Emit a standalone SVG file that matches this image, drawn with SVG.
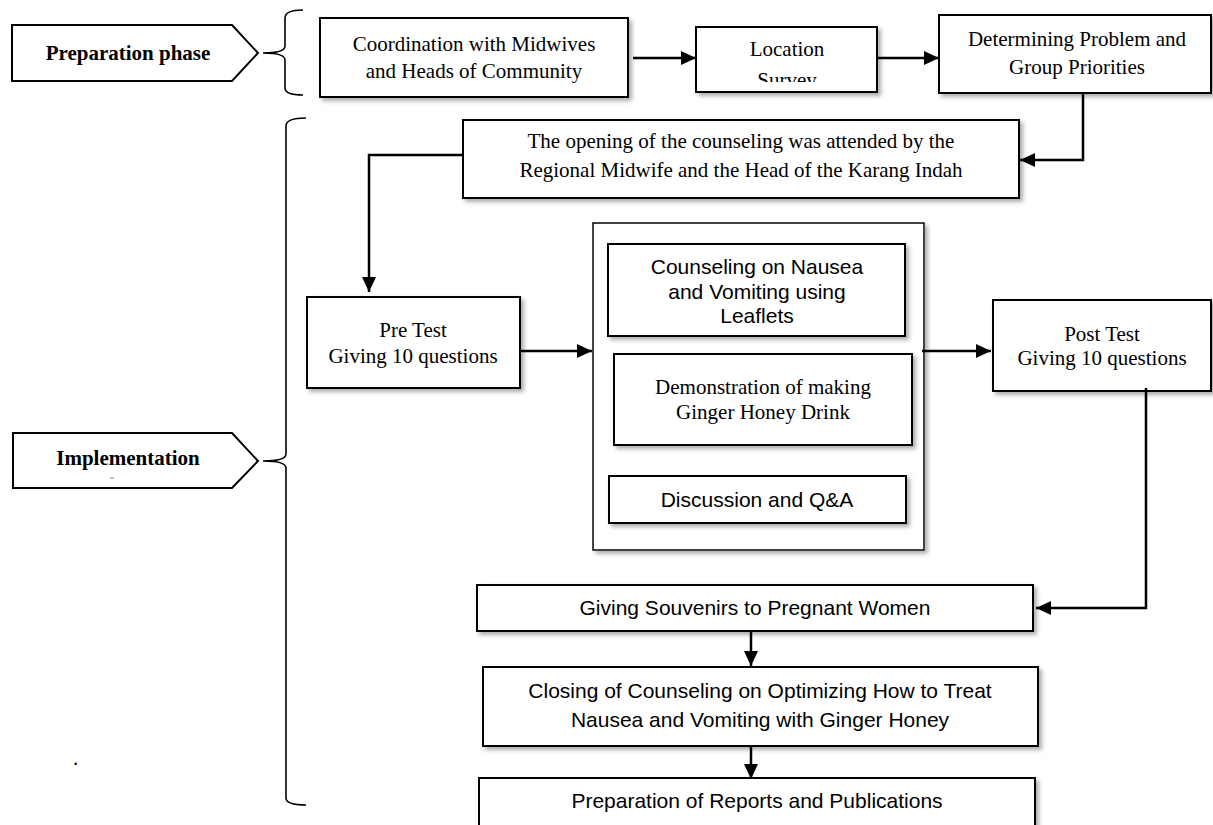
<svg xmlns="http://www.w3.org/2000/svg" width="1213" height="825" viewBox="0 0 1213 825">
<style>
.box{fill:#fff;stroke:#000;stroke-width:2;filter:url(#sh)}
.cont{fill:#fff;stroke:#000;stroke-width:1.5;filter:url(#sh)}
.tag{fill:#fff;stroke:#000;stroke-width:2}
.brace{fill:none;stroke:#000;stroke-width:1.6}
.ser{font-family:"Liberation Serif","Times New Roman",serif;font-size:21px;fill:#000;text-anchor:middle}
.san{font-family:"Liberation Sans",Arial,sans-serif;font-size:21px;fill:#000;text-anchor:middle}
.bold{font-family:"Liberation Serif","Times New Roman",serif;font-size:21px;font-weight:bold;fill:#000;text-anchor:middle}
.con{fill:none;stroke:#000;stroke-width:2.5}
.arr{marker-end:url(#ah)}
</style>
<defs>
<filter id="sh" x="-10%" y="-10%" width="130%" height="140%">
<feDropShadow dx="3" dy="3" stdDeviation="2" flood-color="#777" flood-opacity="0.6"/>
</filter>
<marker id="ah" markerUnits="userSpaceOnUse" markerWidth="15" markerHeight="14" refX="15" refY="7" orient="auto">
<path d="M0,0 L15,7 L0,14 z" fill="#000"/>
</marker>
<clipPath id="locclip"><rect x="697" y="28" width="179" height="54"/></clipPath>
</defs>

<g id="prep-phase">
<path class="tag" d="M12,25 L232,25 L258,53 L232,81 L12,81 Z"/>
<text class="bold" x="128" y="60">Preparation phase</text>
</g>
<g id="impl-phase">
<path class="tag" d="M13,433 L232,433 L258,461 L232,488 L13,488 Z"/>
<text class="bold" x="128" y="465">Implementation</text>
<line x1="110" y1="478" x2="114" y2="478" stroke="#888" stroke-width="1"/>
</g>
<g id="braces">
<path class="brace" d="M303,10 Q285,10 285,18 L285,46 Q285,53 263,53 Q285,53 285,60 L285,88 Q285,95 303,95"/>
<path class="brace" d="M306,118 Q286,118 286,126 L286,454 Q286,461 263,461 Q286,461 286,468 L286,798 Q286,805 306,805"/>
</g>
<text x="73" y="765" font-family="Liberation Serif, serif" font-size="21">.</text>

<g id="coordination">
<rect class="box" x="320" y="18" width="308" height="79"/>
<text class="ser" x="474" y="51">Coordination with Midwives</text>
<text class="ser" x="474" y="78">and Heads of Community</text>
</g>
<g id="location">
<rect class="box" x="696" y="27" width="181" height="65"/>
<g clip-path="url(#locclip)">
<text class="ser" x="787" y="56">Location</text>
<text class="ser" x="787" y="87">Survey</text>
</g>
</g>
<g id="determining">
<rect class="box" x="939" y="15" width="272" height="78"/>
<text class="ser" x="1077" y="46">Determining Problem and</text>
<text class="ser" x="1077" y="74">Group Priorities</text>
</g>
<g id="opening">
<rect class="box" x="463" y="120" width="556" height="78"/>
<text class="ser" x="741" y="148">The opening of the counseling was attended by the</text>
<text class="ser" x="741" y="177">Regional Midwife and the Head of the Karang Indah</text>
</g>
<g id="pretest">
<rect class="box" x="307" y="297" width="213" height="91"/>
<text class="ser" x="413" y="337">Pre Test</text>
<text class="ser" x="413" y="363">Giving 10 questions</text>
</g>
<g id="activities">
<rect class="cont" x="593" y="223" width="331" height="327"/>
<g id="counseling">
<rect class="box" x="608" y="244" width="297" height="92"/>
<text class="san" x="757" y="274">Counseling on Nausea</text>
<text class="san" x="757" y="299">and Vomiting using</text>
<text class="san" x="757" y="323">Leaflets</text>
</g>
<g id="demonstration">
<rect class="box" x="614" y="354" width="298" height="91"/>
<text class="ser" x="763" y="394">Demonstration of making</text>
<text class="ser" x="763" y="419">Ginger Honey Drink</text>
</g>
<g id="discussion">
<rect class="box" x="609" y="476" width="297" height="47"/>
<text class="san" x="757" y="507">Discussion and Q&amp;A</text>
</g>
</g>
<g id="posttest">
<rect class="box" x="993" y="300" width="218" height="91"/>
<text class="ser" x="1102" y="341">Post Test</text>
<text class="ser" x="1102" y="365">Giving 10 questions</text>
</g>
<g id="souvenirs">
<rect class="box" x="477" y="585" width="556" height="46"/>
<text class="san" x="755" y="615">Giving Souvenirs to Pregnant Women</text>
</g>
<g id="closing">
<rect class="box" x="483" y="667" width="555" height="79"/>
<text class="san" x="760" y="698">Closing of Counseling on Optimizing How to Treat</text>
<text class="san" x="760" y="727">Nausea and Vomiting with Ginger Honey</text>
</g>
<g id="reports">
<rect class="box" x="479" y="778" width="556" height="60"/>
<text class="san" x="757" y="808">Preparation of Reports and Publications</text>
</g>

<g id="connectors">
<line class="con arr" x1="633" y1="58" x2="696" y2="58"/>
<line class="con arr" x1="877" y1="58" x2="939" y2="58"/>
<polyline class="con arr" points="1083,93 1083,160 1020,160"/>
<polyline class="con arr" points="463,155 369,155 369,292"/>
<line class="con arr" x1="520" y1="351" x2="592" y2="351"/>
<line class="con arr" x1="922" y1="351" x2="991" y2="351"/>
<polyline class="con arr" points="1146,388 1146,608 1036,608"/>
<line class="con arr" x1="751" y1="631" x2="751" y2="666"/>
<line class="con arr" x1="751" y1="746" x2="751" y2="779"/>
</g>
</svg>
